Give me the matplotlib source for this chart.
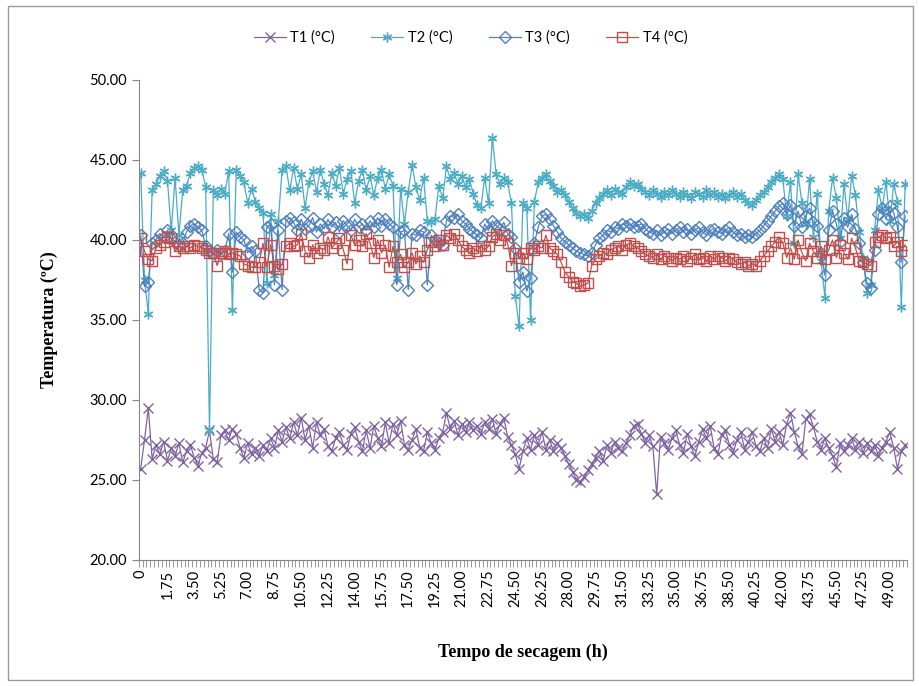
import matplotlib.pyplot as plt
import matplotlib.patches as mpatches
import numpy as np

# drying time, one reading every 0.25 h
horas = [i * 0.25 for i in range(201)]

t1 = [25.7, 27.5, 29.5, 26.3, 27.2, 26.6, 27.4, 26.2, 27.0, 26.5,
      27.3, 26.1, 26.8, 27.2, 26.4, 25.9, 26.7, 27.0, 28.1, 26.3,
      26.1, 27.8, 28.1, 27.5, 28.2, 27.9, 27.0, 26.4, 27.3, 26.6,
      27.0, 26.5, 27.2, 26.8, 27.6, 27.0, 28.1, 27.4, 28.3, 27.6,
      28.6, 27.8, 28.9, 27.5, 28.4, 27.0, 28.6, 27.8, 28.2, 27.1,
      26.8, 27.6, 28.0, 27.2, 26.9, 27.9, 28.3, 27.4, 26.8, 28.1,
      27.0, 28.4, 27.6, 27.1, 28.6, 27.3, 28.5, 27.8, 28.7, 27.2,
      26.9, 27.5, 28.2, 27.0, 26.8, 28.0, 27.3, 26.9, 27.6, 28.0,
      29.2, 28.2, 28.7, 27.8, 28.5, 28.0, 28.6, 28.1, 28.4, 27.9,
      28.6, 28.2, 28.8, 27.9, 28.5, 28.9, 27.7, 27.2, 26.6, 25.7,
      26.8, 27.6, 26.9, 27.8, 27.2, 28.0, 26.9, 27.5, 26.8, 27.3,
      27.0, 26.5, 26.0, 25.5, 25.0, 24.9, 25.2, 25.6, 26.0, 26.4,
      26.8, 26.2, 27.2, 26.7, 27.4, 27.0, 26.8, 27.3, 27.8, 28.4,
      28.5, 27.9, 27.3, 27.8, 27.1, 24.1, 27.7, 27.3, 26.9, 27.6,
      28.1, 27.2, 26.7, 27.9, 27.1, 26.5, 27.4, 28.2, 27.6, 28.4,
      27.0, 26.6, 27.8, 28.1, 27.2, 26.7, 27.5, 28.0, 26.9, 27.4,
      28.0, 27.1, 26.8, 27.6, 27.0, 28.2, 27.4, 28.0, 27.2, 28.5,
      29.2, 28.0, 27.1, 26.6, 28.8, 29.1, 28.3, 27.4, 26.9, 27.6,
      27.0, 26.5, 25.8, 27.3, 26.8, 27.2, 27.6, 26.9, 27.4, 26.7,
      27.3, 26.8, 27.2, 26.5, 27.0, 27.4, 28.0, 27.0, 25.7, 26.8, 27.2]

t2 = [44.2, 37.5, 35.4, 43.1, 43.5, 44.0, 44.3, 43.7, 40.6, 43.9,
      40.3, 43.1, 43.4, 44.2, 44.5, 44.6, 44.4, 43.3, 28.1, 43.1,
      42.8, 43.2, 42.9, 44.3, 35.6, 44.4, 44.0, 43.6, 42.3, 43.2,
      42.4, 42.0, 41.7, 37.3, 41.6, 37.8, 41.2, 44.4, 44.6, 43.1,
      44.5, 43.2, 44.1, 42.0, 43.6, 44.3, 43.0, 44.4, 43.5, 42.8,
      44.2, 43.4, 44.5, 42.9, 43.8, 44.3, 42.3, 43.7, 44.4, 43.1,
      44.0, 42.8, 43.9, 44.4, 43.2, 44.1, 43.4, 37.6, 43.2, 41.0,
      43.0, 44.7, 43.3, 42.5, 43.9, 41.2, 41.1, 41.3, 43.4, 42.6,
      44.6, 43.8, 44.2, 43.5, 44.0, 43.3, 43.8, 42.9, 42.2, 42.0,
      43.9, 42.3, 46.4, 44.1, 43.5, 43.9, 43.6, 42.3, 36.5, 34.6,
      42.3, 42.0, 35.0, 42.4, 43.6, 43.9, 44.1, 43.7, 43.4, 43.0,
      43.1, 42.8, 42.4, 42.0, 41.7, 41.5, 41.6, 41.4, 41.8, 42.3,
      42.6, 42.9, 43.1, 42.8, 43.2, 43.0, 42.9, 43.3, 43.6, 43.4,
      43.5, 43.2, 43.0, 42.8, 43.1, 42.9, 42.7, 43.0, 42.8, 43.1,
      42.9, 42.7, 43.0, 42.8, 42.6, 43.0, 42.9, 42.7, 43.1, 42.8,
      43.0, 42.7, 42.9, 42.6, 42.8, 43.0, 42.7, 42.9, 42.5, 42.3,
      42.2, 42.5, 42.8, 43.0, 43.3, 43.6, 43.9, 44.1, 43.8, 41.5,
      43.6, 39.8, 44.1, 42.3, 41.0, 43.8, 40.2, 42.9, 38.7, 36.4,
      41.8, 43.9, 42.6, 40.1, 43.5, 41.3, 44.0, 42.8, 40.5, 38.9,
      36.7, 37.2, 40.6, 43.1, 42.0, 43.6, 41.2, 43.5, 42.4, 35.8, 43.5]

t3 = [40.3, 37.1, 37.4, 39.8, 40.0, 40.4, 40.2, 40.6, 40.1, 39.9,
      39.7, 39.8, 40.5, 40.9, 41.0, 40.8, 40.6, 39.6, 39.3, 39.2,
      39.4, 39.1, 39.3, 40.4, 38.0, 40.5, 40.2, 40.0, 39.2, 39.6,
      39.3, 36.9, 36.7, 40.8, 41.0, 37.2, 40.6, 36.9, 41.2, 41.4,
      41.1, 40.6, 41.3, 40.7, 40.9, 41.4, 40.5, 41.0, 40.7, 41.3,
      40.8, 41.1, 40.5, 41.2, 40.9, 40.6, 41.3, 40.8, 41.0, 40.6,
      41.2, 40.8, 41.4, 40.9, 41.3, 41.0, 40.8, 37.2, 40.5, 40.6,
      36.9, 40.4, 40.3, 40.6, 40.5, 37.2, 40.3, 40.0, 39.8, 39.7,
      41.2, 41.5, 41.4, 41.6, 41.2, 41.0, 40.7, 40.5, 40.3, 40.1,
      41.0, 40.6, 41.2, 40.9, 40.7, 41.1, 40.4, 40.2, 39.5, 37.4,
      38.0, 36.8, 37.6, 39.8, 40.8, 41.5, 41.6, 41.3, 40.9, 40.5,
      40.1, 39.9, 39.7, 39.5, 39.3, 39.2, 39.1, 39.0, 39.2, 39.7,
      40.1, 40.3, 40.6, 40.5, 40.8, 40.7, 41.0, 40.9, 41.0, 40.8,
      40.9, 41.0, 40.7, 40.5, 40.4, 40.6, 40.3, 40.5, 40.7, 40.4,
      40.6, 40.8, 40.5, 40.7, 40.4, 40.6, 40.8, 40.5, 40.3, 40.6,
      40.7, 40.5, 40.4, 40.6, 40.8, 40.5, 40.3, 40.4, 40.2, 40.3,
      40.2, 40.4, 40.6, 40.9, 41.2, 41.5, 41.8, 42.1, 42.3, 41.6,
      42.2, 40.9, 41.8, 40.8, 41.5, 42.0, 41.1, 40.9, 39.2, 37.8,
      40.6, 41.8, 41.0, 39.9, 41.4, 40.8, 41.6, 40.7, 39.8, 38.6,
      37.3, 37.0, 39.4, 41.6, 42.0, 41.3, 42.1, 41.7, 40.8, 38.6, 41.5]

t4 = [40.1, 39.3, 38.8, 38.7, 39.5, 39.7, 39.9, 40.2, 40.1, 39.3,
      39.6, 39.5, 39.6, 39.5, 39.7, 39.6, 39.5, 39.4, 39.2, 39.2,
      38.4, 39.2, 39.3, 39.1, 39.2, 39.1, 39.0, 38.5, 38.4, 38.3,
      38.3, 38.6, 39.8, 38.3, 39.7, 38.4, 38.2, 38.5, 39.6, 39.8,
      39.6, 39.7, 40.4, 39.3, 38.9, 39.7, 39.2, 39.5, 39.4, 40.2,
      39.5, 39.8, 40.1, 39.4, 38.5, 40.3, 39.7, 40.0, 39.6, 40.4,
      39.8, 38.9, 40.0, 39.2, 39.7, 38.3, 39.6, 38.6, 39.1, 38.3,
      38.6, 39.2, 38.5, 39.0, 38.6, 39.4, 39.9, 39.6, 40.0, 39.7,
      40.3, 40.1, 40.4, 40.0, 39.6, 39.4, 39.2, 39.5, 39.3, 39.6,
      39.4, 39.6, 40.2, 40.4, 40.0, 40.3, 39.8, 38.4, 39.2, 38.9,
      39.2, 38.8, 39.5, 39.4, 39.6, 39.5, 40.3, 39.5, 39.3, 39.1,
      38.6, 38.0, 37.7, 37.4, 37.3, 37.1, 37.2, 37.3, 38.4, 38.8,
      39.0, 39.2, 39.1, 39.4, 39.5, 39.6, 39.4, 39.7, 39.8, 39.6,
      39.5, 39.3, 39.1, 39.0, 38.9, 39.1, 38.8, 39.0, 38.9, 38.7,
      38.9, 38.8, 39.0, 38.7, 38.9, 39.1, 38.8, 38.9, 38.7, 39.0,
      38.8, 39.0, 38.9, 38.7, 38.9, 38.8, 38.6, 38.5, 38.6, 38.4,
      38.5, 38.4, 38.7, 39.0, 39.3, 39.6, 39.9, 40.2, 39.8, 38.9,
      39.5, 38.8, 40.0, 39.2, 38.7, 39.8, 39.3, 38.9, 39.6, 38.8,
      39.4, 40.0, 38.9, 39.7, 39.2, 38.8, 40.1, 39.5, 38.7, 38.6,
      38.5, 38.4, 39.9, 40.2, 40.3, 40.1, 40.2, 39.6, 39.9, 39.3, 39.7]

series = [("T1 (°C)", t1, "#8064A2", "x"),
          ("T2 (°C)", t2, "#4BACC6", (6, 2, 0)),
          ("T3 (°C)", t3, "#4F81BD", "D"),
          ("T4 (°C)", t4, "#C0504D", "s")]

fig = plt.figure(figsize=(9.19, 6.86), dpi=100)
ax = fig.add_axes([0.151, 0.1837, 0.836, 0.6997])

pos = np.arange(len(horas))
for nome, vals, cor, mk in series:
    ms = 6 if mk == "D" else 7
    ax.plot(pos, vals, color=cor, lw=0.9, marker=mk, ms=ms,
            mfc="none", mec=cor, mew=1.0, label=nome)

ax.set_xlim(-0.5, len(horas) - 0.5)
ax.set_ylim(20, 50)
ax.set_yticks(np.arange(20, 51, 5))
ax.set_yticklabels(["%.2f" % v for v in np.arange(20, 51, 5)],
                   fontsize=10.5, family="Lato")

lab_pos = pos[::7]
lab_txt = ["0"] + ["%.2f" % horas[i] for i in lab_pos[1:]]
ax.set_xticks(lab_pos)
ax.set_xticklabels(lab_txt, rotation=90, fontsize=10.5, family="Lato")
ax.set_xticks(np.arange(-0.5, len(horas), 1), minor=True)
ax.tick_params(axis="x", which="major", length=0, pad=7)
ax.tick_params(axis="x", which="minor", length=5, color="#868686")
ax.tick_params(axis="y", length=5, color="#868686")

for s in ["top", "right"]:
    ax.spines[s].set_visible(False)
for s in ["left", "bottom"]:
    ax.spines[s].set_color("#868686")

fig.text(0.054, 0.5335, "Temperatura (ºC)", rotation=90, ha="center", va="center",
         fontsize=13, fontweight="bold", family="Liberation Serif")
fig.text(0.569, 0.0496, "Tempo de secagem (h)", ha="center", va="center",
         fontsize=13, fontweight="bold", family="Liberation Serif")

leg = fig.legend(loc="center", bbox_to_anchor=(0.512, 0.945), ncol=4, frameon=False,
                 prop={"family": "Lato", "size": 10.5}, handlelength=2.2,
                 columnspacing=2.5, handletextpad=0.3)

fig.patches.append(mpatches.Rectangle((0.009, 0.009), 0.985, 0.982, transform=fig.transFigure,
                                      fill=False, ec="#9a9a9a", lw=1))

fig.savefig("out.png", dpi=100)
